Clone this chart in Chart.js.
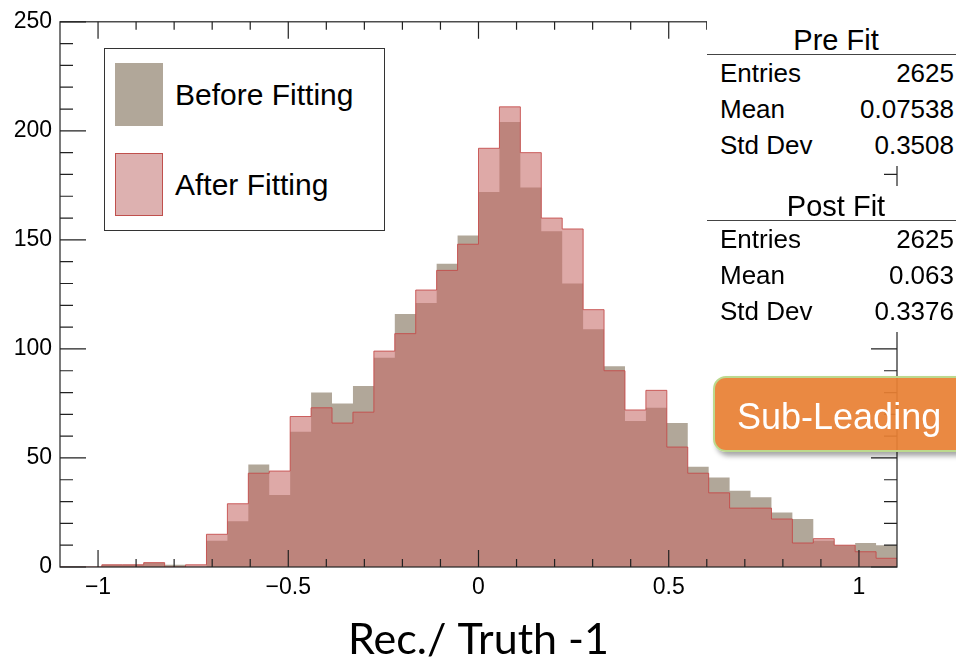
<!DOCTYPE html>
<html>
<head>
<meta charset="utf-8">
<script src="https://cdn.jsdelivr.net/npm/chart.js@4.4.0/dist/chart.umd.min.js"></script>
<style>
  html, body { margin: 0; padding: 0; background: #fff; }
  #wrap { position: relative; width: 956px; height: 662px; overflow: hidden; font-family: "Liberation Sans", Arial, sans-serif; color: #000; }
  #wrap canvas { position: absolute; left: 0; top: 0; }
  .legend { position: absolute; left: 104px; top: 48px; width: 279px; height: 181px; border: 1.5px solid #333; background: #fff; }
  .swatch { position: absolute; left: 10px; width: 48px; height: 63px; }
  .legend .txt { position: absolute; left: 70px; font-size: 30px; line-height: 36px; white-space: nowrap; }
  .stats { position: absolute; left: 707px; width: 260px; background: #fff; }
  .stats .title { position: absolute; left: 0; width: 258px; text-align: center; font-size: 29px; line-height: 36px; }
  .stats .rule { position: absolute; left: 0; width: 260px; border-top: 1.5px solid #444; }
  .stats .lab { position: absolute; left: 13px; font-size: 26px; line-height: 36px; white-space: nowrap; }
  .stats .val { position: absolute; right: 13px; font-size: 26px; line-height: 36px; white-space: nowrap; }
  .callout { position: absolute; left: 713px; top: 376px; width: 262px; height: 72px; background: rgba(232, 128, 52, 0.93);
             border: 2px solid #bcd98e; border-radius: 13px; box-shadow: 3px 4px 5px rgba(0,0,0,0.35); }
  .callout span { position: absolute; left: 22px; top: 19px; font-size: 36px; line-height: 40px; color: #fff; white-space: nowrap; }
</style>
</head>
<body>
<div id="wrap">
  <canvas id="hist" width="956" height="662"></canvas>
  <div class="legend">
    <div class="swatch" style="top:14px;background:#b1a799;"></div>
    <div class="txt" style="top:28px;">Before Fitting</div>
    <div class="swatch" style="top:104px;background:#ddb1b0;border:1px solid #c0504d;box-sizing:border-box;"></div>
    <div class="txt" style="top:118px;">After Fitting</div>
  </div>
  <div id="statsPre" class="stats" style="top:20px;height:146px;"></div>
  <div id="statsPost" class="stats" style="top:186px;height:146px;"></div>
  <div class="callout"><span>Sub-Leading</span></div>
</div>
<script>
// histogram binning
const xMin = -1.1;
const xMax = 1.1;
const binWidth = 0.055;

// bin contents
const beforeFitting = [0, 0, 1, 1, 2, 1, 0, 12, 21, 47, 33, 62, 80, 75, 83, 96, 116, 121, 139, 152,
                       172, 204, 174, 154, 130, 109, 92, 67, 73, 66, 46, 41, 35, 32, 25, 22, 12, 10, 11, 10];
const afterFitting = [0, 0, 1, 1, 2, 0, 1, 15, 29, 43, 44, 69, 73, 66, 71, 99, 107, 127, 136, 148,
                      192, 211, 190, 160, 155, 118, 90, 72, 81, 55, 43, 34, 27, 27, 22, 11, 13, 10, 7, 4];

const xTickValues = [-1, -0.5, 0, 0.5, 1];
const yTickValues = [0, 50, 100, 150, 200, 250];

const statLabels = ["Entries", "Mean", "Std Dev"];
const preFitStats = ["2625", "0.07538", "0.3508"];
const postFitStats = ["2625", "0.063", "0.3376"];

function fillStats(id, title, values) {
    const box = document.getElementById(id);
    let html = `<div class="title" style="top:2px;">${title}</div><div class="rule" style="top:34px;"></div>`;
    statLabels.forEach((lab, i) => {
        const top = 35 + i * 36;
        html += `<div class="lab" style="top:${top}px;">${lab}</div><div class="val" style="top:${top}px;">${values[i]}</div>`;
    });
    box.innerHTML = html;
}
fillStats("statsPre", "Pre Fit", preFitStats);
fillStats("statsPost", "Post Fit", postFitStats);

// step outline: one point per bin low edge, closed at the upper edge of the last bin
function histPoints(arr) {
    const pts = arr.map((v, i) => ({ x: xMin + binWidth * i, y: v }));
    pts.push({ x: xMax, y: arr[arr.length - 1] });
    return pts;
}

function fmtTick(v) {
    if (v === 0) return "0";
    return (v < 0 ? "\u2212" : "") + Math.abs(v).toString();
}

// ROOT style frame with ticks on all four sides
const rootFrame = {
    id: "rootFrame",
    afterDraw(chart) {
        const { ctx, chartArea: a, scales: { x, y } } = chart;
        ctx.save();
        ctx.strokeStyle = "#222";
        ctx.lineWidth = 1.2;
        ctx.strokeRect(a.left, a.top, a.right - a.left, a.bottom - a.top);
        ctx.beginPath();
        for (let v = 0; v <= 250; v += 10) {
            const py = y.getPixelForValue(v);
            const len = v % 50 === 0 ? 26 : 13;
            ctx.moveTo(a.left, py); ctx.lineTo(a.left + len, py);
            ctx.moveTo(a.right, py); ctx.lineTo(a.right - len, py);
        }
        for (let k = -10; k <= 10; k++) {
            const px = x.getPixelForValue(k / 10);
            const len = k % 5 === 0 ? 17 : 8;
            ctx.moveTo(px, a.bottom); ctx.lineTo(px, a.bottom - len);
            ctx.moveTo(px, a.top); ctx.lineTo(px, a.top + len);
        }
        ctx.stroke();
        ctx.restore();
    }
};

const tickFont = { family: "Liberation Sans", size: 23 };

new Chart(document.getElementById("hist").getContext("2d"), {
    type: "line",
    data: {
        datasets: [
            {
                label: "After Fitting",
                data: histPoints(afterFitting),
                stepped: "before",
                fill: "origin",
                backgroundColor: "rgba(198, 106, 104, 0.58)",
                borderColor: "rgba(196, 72, 70, 0.85)",
                borderWidth: 1,
                pointRadius: 0,
                order: 0
            },
            {
                label: "Before Fitting",
                data: histPoints(beforeFitting),
                stepped: "before",
                fill: "origin",
                backgroundColor: "#b1a799",
                borderColor: "#b1a799",
                borderWidth: 0,
                pointRadius: 0,
                order: 1
            }
        ]
    },
    options: {
        responsive: false,
        animation: false,
        layout: { padding: { top: 16, right: 59, left: 0, bottom: 0 } },
        plugins: { legend: { display: false }, tooltip: { enabled: false } },
        scales: {
            x: {
                type: "linear",
                min: xMin,
                max: xMax,
                grid: { display: false, drawTicks: false },
                border: { display: false },
                afterBuildTicks: s => { s.ticks = xTickValues.map(v => ({ value: v })); },
                afterFit: s => { s.height = 95; },
                ticks: { padding: 7, font: tickFont, color: "#000", maxRotation: 0, autoSkip: false, callback: v => fmtTick(v) },
                title: { display: true, text: "Rec./ Truth -1", color: "#000", font: { family: "Lato", size: 43, lineHeight: 1 }, padding: { top: 0, bottom: 0 } }
            },
            y: {
                min: 0,
                max: 250,
                grid: { display: false, drawTicks: false },
                border: { display: false },
                afterBuildTicks: s => { s.ticks = yTickValues.map(v => ({ value: v })); },
                afterFit: s => { s.width = 60; },
                ticks: { padding: 8, font: tickFont, color: "#000", callback: v => v.toString() }
            }
        }
    },
    plugins: [rootFrame]
});
</script>
</body>
</html>
